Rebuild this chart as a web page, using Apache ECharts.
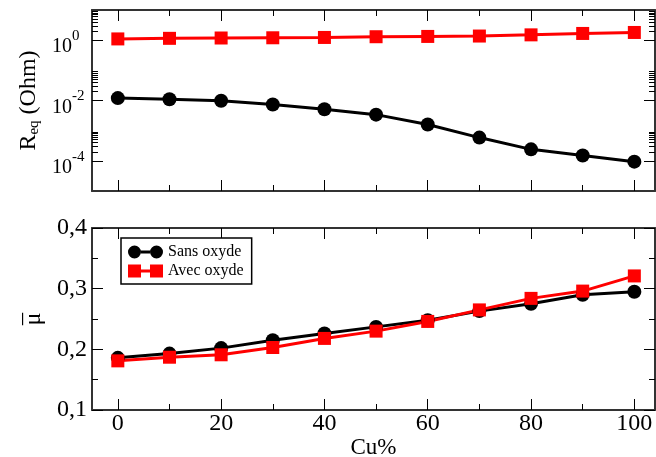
<!DOCTYPE html>
<html>
<head>
<meta charset="utf-8">
<script src="https://cdn.jsdelivr.net/npm/echarts@6/dist/echarts.min.js"></script>
<style>html,body{margin:0;padding:0;background:#fff}#c{width:656px;height:457px}</style>
</head>
<body>
<div id="c"></div>
<script>
// ---- data ----
const cuPct = [0, 10, 20, 30, 40, 50, 60, 70, 80, 90, 100];
const reqSans = [0.012, 0.011, 0.0098, 0.0074, 0.0051, 0.0034, 0.0016, 0.00059, 0.00024, 0.00015, 0.000094];
const reqAvec = [1.1, 1.15, 1.18, 1.2, 1.23, 1.3, 1.33, 1.37, 1.5, 1.67, 1.8];
const muSans = [0.186, 0.193, 0.202, 0.215, 0.226, 0.237, 0.248, 0.263, 0.275, 0.29, 0.295];
const muAvec = [0.181, 0.187, 0.191, 0.203, 0.218, 0.23, 0.246, 0.265, 0.284, 0.296, 0.321];
const seriesNames = ['Sans oxyde', 'Avec oxyde'];
const xMajorTicks = [0, 20, 40, 60, 80, 100];
const xMinorTicks = [10, 30, 50, 70, 90];
const logMajorTicks = [1, 0.01, 0.0001];
const logMinorTicks = [2, 3, 4, 5, 6, 7, 8, 9, 0.02, 0.03, 0.04, 0.05, 0.06, 0.07, 0.08, 0.09,
  0.0002, 0.0003, 0.0004, 0.0005, 0.0006, 0.0007, 0.0008, 0.0009];

const FONT = 'Liberation Serif';
const AX = '#333';
const pairs = (xs, ys) => xs.map((x, i) => [x, ys[i]]);

function xAx(grid, pos, ticks, len, showLine, labels) {
  return {
    type: 'value', gridIndex: grid, position: pos, min: -5, max: 104,
    axisLine: { show: showLine, onZero: false, lineStyle: { color: AX, width: 2 } },
    axisTick: { show: true, inside: true, length: len, customValues: ticks, lineStyle: { color: '#000', width: 1 } },
    axisLabel: labels ? { show: true, customValues: ticks, margin: 2, color: '#000', fontFamily: FONT, fontSize: 24 } : { show: false },
    splitLine: { show: false }
  };
}
function yLog(pos, ticks, len, showLine, labels) {
  return {
    type: 'log', logBase: 10, gridIndex: 0, position: pos, min: 0.00001, max: 10,
    axisLine: { show: showLine, onZero: false, lineStyle: { color: AX, width: 2 } },
    axisTick: { show: true, inside: true, length: len, customValues: ticks, lineStyle: { color: '#000', width: 1 } },
    axisLabel: labels ? {
      show: true, customValues: ticks, align: 'left', margin: 40, color: '#000',
      formatter: v => '{b|10}{s|' + Math.round(Math.log10(v)) + '}',
      rich: {
        b: { fontFamily: FONT, fontSize: 20, padding: [14, 0, 0, 0] },
        s: { fontFamily: FONT, fontSize: 15, padding: [0, 0, 8, 0] }
      }
    } : { show: false },
    splitLine: { show: false }
  };
}

const chart = echarts.init(document.getElementById('c'));
chart.setOption({
  animation: false,
  backgroundColor: '#fff',
  grid: [
    { left: 92, top: 10, width: 563, height: 181, outerBoundsMode: 'none', containLabel: false },
    { left: 92, top: 228, width: 563, height: 182, outerBoundsMode: 'none', containLabel: false }
  ],
  xAxis: [
    xAx(0, 'bottom', xMajorTicks, 11, true, false),
    xAx(0, 'bottom', xMinorTicks, 6, false, false),
    xAx(0, 'top', xMajorTicks, 11, true, false),
    xAx(0, 'top', xMinorTicks, 6, false, false),
    Object.assign(xAx(1, 'bottom', xMajorTicks, 11, true, true), {
      name: 'Cu%', nameLocation: 'middle', nameGap: 24,
      nameTextStyle: { fontFamily: FONT, fontSize: 23, color: '#000' }
    }),
    xAx(1, 'bottom', xMinorTicks, 6, false, false),
    xAx(1, 'top', xMajorTicks, 11, true, false),
    xAx(1, 'top', xMinorTicks, 6, false, false)
  ],
  yAxis: [
    Object.assign(yLog('left', logMajorTicks, 11, true, true), {
      name: '{r|R}{sub|eq}{r| (Ohm)}', nameLocation: 'middle', nameGap: 48, nameRotate: 90,
      nameTextStyle: {
        color: '#000',
        rich: {
          r: { fontFamily: FONT, fontSize: 24 },
          sub: { fontFamily: FONT, fontSize: 15, padding: [10, 0, 0, 0] }
        }
      }
    }),
    yLog('left', logMinorTicks, 6, false, false),
    yLog('right', logMajorTicks, 11, true, false),
    yLog('right', logMinorTicks, 6, false, false),
    {
      type: 'value', gridIndex: 1, position: 'left', min: 0.1, max: 0.4, interval: 0.1,
      name: '{o|_}\n{m|μ}', nameLocation: 'middle', nameGap: 36, nameRotate: 90,
      nameTextStyle: {
        color: '#000',
        rich: {
          o: { fontFamily: FONT, fontSize: 24, lineHeight: 18, align: 'center' },
          m: { fontFamily: FONT, fontSize: 24, lineHeight: 22, align: 'center' }
        }
      },
      axisLine: { show: true, onZero: false, lineStyle: { color: AX, width: 2 } },
      axisTick: { show: true, inside: true, length: 11, lineStyle: { color: '#000', width: 1 } },
      minorTick: { show: true, splitNumber: 2, length: 6, lineStyle: { color: '#000', width: 1 } },
      axisLabel: { show: true, margin: 5, color: '#000', fontFamily: FONT, fontSize: 24,
        formatter: v => v.toFixed(1).replace('.', ',') },
      splitLine: { show: false }
    },
    {
      type: 'value', gridIndex: 1, position: 'right', min: 0.1, max: 0.4, interval: 0.1,
      axisLine: { show: true, onZero: false, lineStyle: { color: AX, width: 2 } },
      axisTick: { show: true, inside: true, length: 11, lineStyle: { color: '#000', width: 1 } },
      minorTick: { show: true, splitNumber: 2, length: 6, lineStyle: { color: '#000', width: 1 } },
      axisLabel: { show: false },
      splitLine: { show: false }
    }
  ],
  legend: {
    left: 121, top: 238, orient: 'vertical',
    padding: [6, 8, 5, 7], itemGap: 3, itemWidth: 35, itemHeight: 13,
    borderColor: '#000', borderWidth: 1.5, backgroundColor: '#fff',
    textStyle: { fontFamily: FONT, fontSize: 16, color: '#000' },
    data: [
      { name: seriesNames[0], icon: 'path://M0,6.5A6.5,6.5 0 1,1 13,6.5A6.5,6.5 0 1,1 0,6.5ZM13,5L22,5L22,8L13,8ZM22,6.5A6.5,6.5 0 1,1 35,6.5A6.5,6.5 0 1,1 22,6.5Z' },
      { name: seriesNames[1], icon: 'path://M0,0L13,0L13,13L0,13ZM13,5L22,5L22,8L13,8ZM22,0L35,0L35,13L22,13Z' }
    ]
  },
  series: [
    { name: seriesNames[0], type: 'line', xAxisIndex: 0, yAxisIndex: 0, data: pairs(cuPct, reqSans),
      symbol: 'circle', symbolSize: 14, color: '#000', lineStyle: { color: '#000', width: 3 }, itemStyle: { color: '#000' } },
    { name: seriesNames[1], type: 'line', xAxisIndex: 0, yAxisIndex: 0, data: pairs(cuPct, reqAvec),
      symbol: 'rect', symbolSize: 13, color: '#ff0000', lineStyle: { color: '#ff0000', width: 3 }, itemStyle: { color: '#ff0000' } },
    { name: seriesNames[0], type: 'line', xAxisIndex: 4, yAxisIndex: 4, data: pairs(cuPct, muSans),
      symbol: 'circle', symbolSize: 14, color: '#000', lineStyle: { color: '#000', width: 3 }, itemStyle: { color: '#000' } },
    { name: seriesNames[1], type: 'line', xAxisIndex: 4, yAxisIndex: 4, data: pairs(cuPct, muAvec),
      symbol: 'rect', symbolSize: 13, color: '#ff0000', lineStyle: { color: '#ff0000', width: 3 }, itemStyle: { color: '#ff0000' } }
  ]
});
</script>
</body>
</html>
